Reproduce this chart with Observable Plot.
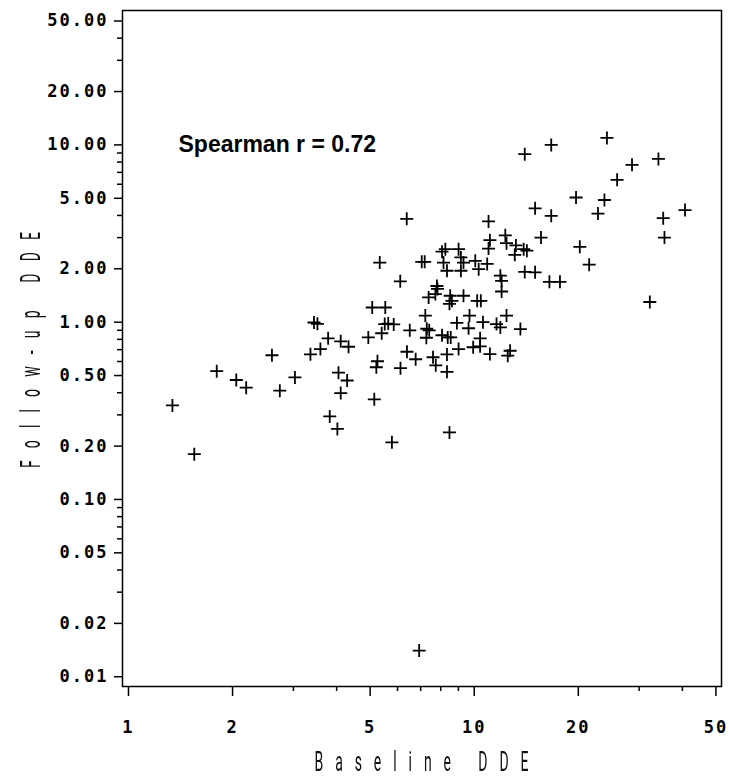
<!DOCTYPE html>
<html>
<head>
<meta charset="utf-8">
<script src="https://cdn.jsdelivr.net/npm/d3@7"></script>
<script src="https://cdn.jsdelivr.net/npm/@observablehq/plot@0.6"></script>
<style>
  html, body { margin: 0; padding: 0; background: #fff; }
  svg g[aria-label="y-axis tick label"] text,
  svg g[aria-label="x-axis tick label"] text { letter-spacing: 2px; }
  svg text.axis-title { filter: grayscale(1); }
</style>
</head>
<body>
<div id="chart"></div>
<script>
// Baseline DDE (x) and Follow-up DDE (y)
const baseline = [
  6.38, 5.33, 7.05, 7.19, 6.11, 5.07, 5.53, 7.22, 3.44, 3.52,
  5.51, 5.64, 5.85, 6.51, 7.29, 7.41, 7.27, 5.40, 3.78, 4.11,
  4.33, 4.94, 2.60, 3.36, 3.59, 6.39, 6.77, 5.25, 5.21, 6.12,
  1.80, 2.05, 2.19, 3.03, 2.74, 4.05, 4.29, 4.11, 5.14, 1.34,
  3.82, 4.02, 1.55, 5.78, 8.48, 6.93, 8.48, 9.69, 8.91, 9.63,
  8.07, 8.38, 8.55, 7.60, 7.74, 8.34, 8.34, 9.01, 9.93, 10.4,
  10.4, 11.0, 11.1, 11.0, 12.3, 12.4, 13.2, 13.1, 13.9, 14.2,
  14.0, 15.0, 11.9, 12.0, 12.0, 8.07, 8.25, 9.01, 9.15, 9.31,
  9.15, 8.15, 8.34, 10.07, 10.3, 10.9, 7.80, 7.83, 7.38, 7.72,
  8.52, 8.62, 9.31, 10.2, 10.45, 12.4, 10.6, 11.6, 11.9, 13.6,
  11.1, 12.7, 12.5, 14.0, 16.7, 24.2, 28.6, 34.1, 25.9, 19.7,
  23.8, 15.0, 16.7, 22.8, 35.2, 40.7, 35.5, 15.6, 20.2, 21.5,
  32.2, 16.5, 17.7
];
const followup = [
  3.83, 2.17, 2.19, 2.19, 1.70, 1.21, 1.21, 1.09, 0.996, 0.979,
  0.976, 0.982, 0.971, 0.900, 0.918, 0.900, 0.817, 0.866, 0.811, 0.780,
  0.727, 0.820, 0.651, 0.659, 0.705, 0.681, 0.618, 0.602, 0.557, 0.550,
  0.529, 0.472, 0.427, 0.488, 0.411, 0.519, 0.469, 0.398, 0.367, 0.339,
  0.294, 0.250, 0.180, 0.210, 0.239, 0.01405, 1.27, 1.09, 0.990, 0.924,
  0.844, 0.820, 0.820, 0.634, 0.571, 0.658, 0.525, 0.705, 0.722, 0.811,
  0.731, 3.70, 2.90, 2.60, 3.09, 2.79, 2.71, 2.40, 2.58, 2.53,
  1.92, 1.91, 1.83, 1.71, 1.49, 2.50, 2.58, 2.58, 2.32, 2.17,
  1.95, 2.17, 1.95, 2.22, 1.99, 2.13, 1.60, 1.54, 1.38, 1.44,
  1.41, 1.32, 1.41, 1.32, 1.32, 1.09, 1.00, 0.976, 0.934, 0.914,
  0.661, 0.690, 0.647, 8.86, 10.0, 10.95, 7.72, 8.34, 6.35, 5.05,
  4.89, 4.39, 3.98, 4.10, 3.86, 4.29, 3.00, 3.00, 2.66, 2.11,
  1.30, 1.69, 1.69
];

const xMajor = [1, 2, 5, 10, 20, 50];
const xMinor = [3, 4, 6, 7, 8, 9, 30, 40];
const yMajor = [0.01, 0.02, 0.05, 0.1, 0.2, 0.5, 1, 2, 5, 10, 20, 50];
const yMinor = [0.03, 0.04, 0.06, 0.07, 0.08, 0.09, 0.3, 0.4, 0.6, 0.7, 0.8, 0.9,
                3, 4, 6, 7, 8, 9, 30, 40];

const xTitle = "Baseline DDE";
const yTitle = "Follow-up DDE";
const note = "Spearman r = 0.72";

const points = baseline.map((b, i) => ({baseline: b, followup: followup[i]}));

const plusSymbol = {
  draw(context, size) {
    const h = Math.sqrt(size / Math.PI);
    context.moveTo(-h, 0); context.lineTo(h, 0);
    context.moveTo(0, -h); context.lineTo(0, h);
  }
};

const tickFont = {fontFamily: "DejaVu Sans Mono", fontSize: 17, fontWeight: "bold"};

const chart = Plot.plot({
  width: 729,
  height: 781,
  marginLeft: 122,
  marginRight: 8,
  marginTop: 10,
  marginBottom: 95,
  style: {background: "white", color: "black"},
  x: {type: "log", domain: [0.961, 51.9], label: null},
  y: {type: "log", domain: [0.00881, 57.3], label: null},
  marks: [
    Plot.frame({stroke: "black", strokeWidth: 1.5}),
    Plot.axisY(yMajor, {tickSize: 8, tickPadding: 6, strokeWidth: 1.5, label: null,
      tickFormat: d => d.toFixed(2), ...tickFont}),
    Plot.axisY(yMinor, {tickSize: 5, strokeWidth: 1.5, label: null, tickFormat: () => ""}),
    Plot.axisX(xMajor, {tickSize: 10, tickPadding: 24, strokeWidth: 1.5, label: null,
      tickFormat: d => String(d), ...tickFont}),
    Plot.axisX(xMinor, {tickSize: 5, strokeWidth: 1.5, label: null, tickFormat: () => ""}),
    Plot.dot(points, {x: "baseline", y: "followup", symbol: plusSymbol, r: 6.5,
      stroke: "black", fill: "none", strokeWidth: 1.8}),
    Plot.text([note], {frameAnchor: "top-left", dx: 56, dy: 141, lineAnchor: "bottom",
      textAnchor: "start", fontFamily: "Liberation Sans", fontWeight: "bold", fontSize: 23,
      fill: "black"})
  ]
});

document.getElementById("chart").appendChild(chart);

const svg = d3.select(chart);
const sx = 0.5;
svg.append("text")
  .attr("class", "axis-title")
  .attr("transform", `translate(421.5,771) scale(${sx},1)`)
  .attr("text-anchor", "middle")
  .attr("font-family", "Roboto, 'DejaVu Sans', sans-serif")
  .attr("font-weight", 400)
  .attr("font-size", 28)
  .attr("fill", "#111")
  .attr("textLength", 214 / sx)
  .attr("lengthAdjust", "spacing")
  .text(xTitle);
svg.append("text")
  .attr("class", "axis-title")
  .attr("transform", `translate(40,350) rotate(-90) scale(${sx},1)`)
  .attr("text-anchor", "middle")
  .attr("font-family", "Roboto, 'DejaVu Sans', sans-serif")
  .attr("font-weight", 400)
  .attr("font-size", 28)
  .attr("fill", "#111")
  .attr("textLength", 236 / sx)
  .attr("lengthAdjust", "spacing")
  .text(yTitle);
</script>
</body>
</html>
